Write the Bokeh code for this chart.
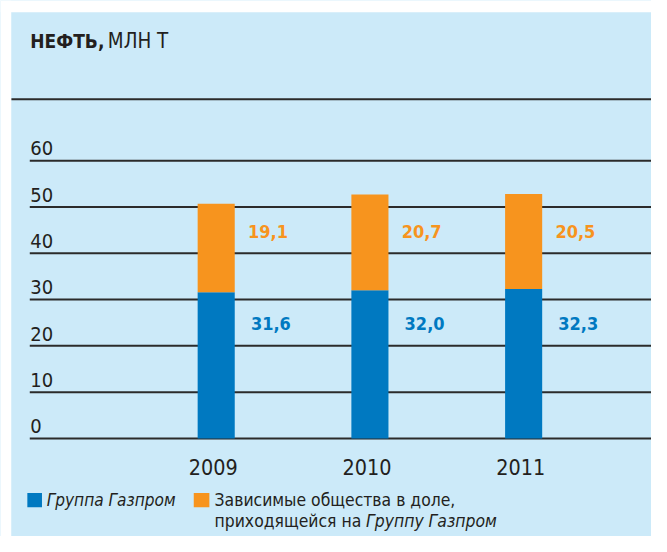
from bokeh.plotting import figure
from bokeh.models import Range1d, BoxAnnotation, ColumnDataSource
from bokeh.core.properties import value
from bokeh.embed import file_html
from bokeh.resources import INLINE

# ---------------- data ----------------
years = ["2009", "2010", "2011"]
gazprom = [31.6, 32.0, 32.3]
affiliates = [19.1, 20.7, 20.5]
gazprom_labels = ["31,6", "32,0", "32,3"]
affiliate_labels = ["19,1", "20,7", "20,5"]
y_ticks = [0, 10, 20, 30, 40, 50, 60]
y_tick_labels = ["0", "10", "20", "30", "40", "50", "60"]
title_bold = "НЕФТЬ,"
title_rest = "МЛН Т"
legend_1 = "Группа Газпром"
legend_2a = "Зависимые общества в доле,"
legend_2b = "приходящейся на"
legend_2c = "Группу Газпром"

# ---------------- style ----------------
BG = "#CCEAF9"
BLUE = "#0079C1"
ORANGE = "#F7941E"
INK = "#231F20"
LINE = "#2b2b2b"
FONT = "Liberation Sans Narrow, Arial Narrow, DejaVu Sans Condensed, sans-serif"

W, H = 651, 536           # whole reference (667 x 552) scaled to fit
SX, SY = W / 667, H / 552
STEP = 157.5              # reference px per category
C0 = 221.0                # reference px of first bar centre
PPU = 4.767               # reference px per unit
Z0 = 451.0                # reference px of zero line


def X(px):
    return (px - C0) / STEP


def Y(py):
    return (Z0 - py) / PPU


def fs(px):
    return f"{px * (SX + SY) / 2:.1f}px"


idx = list(range(len(years)))
totals = [g + a for g, a in zip(gazprom, affiliates)]

src = ColumnDataSource(dict(
    x=idx, g=gazprom, t=totals, gl=gazprom_labels, al=affiliate_labels, yr=years,
))

p = figure(
    width=W, height=H, output_backend="svg", toolbar_location=None,
    x_range=Range1d(X(0), X(667)),
    y_range=Range1d(Y(552), Y(0)),
    x_axis_location=None, y_axis_location=None,
    min_border=0,
)
p.grid.visible = False
p.outline_line_color = None
p.background_fill_color = BG
p.border_fill_color = "white"

# white strips outside the panel
p.add_layout(BoxAnnotation(bottom=Y(12), fill_color="white", fill_alpha=1.0, line_color=None))
p.add_layout(BoxAnnotation(right=X(11), fill_color="white", fill_alpha=1.0, line_color=None))

# separator line under title
p.segment(x0=[X(11)], y0=[Y(101.7)], x1=[X(667)], y1=[Y(101.7)], line_color=LINE, line_width=2)

# gridlines
n = len(y_ticks)
p.segment(x0=[X(30)] * n, y0=y_ticks, x1=[X(667)] * n, y1=y_ticks,
          line_color=LINE, line_width=2)

# tick labels (sit just above their gridline)
lab_lift = 12.6 / PPU
p.text(x=[X(30.5)] * n, y=[t + lab_lift for t in y_ticks], text=y_tick_labels,
       text_font=value(FONT), text_font_size=fs(20.5), text_color=INK,
       text_baseline="middle", text_align="left")

# bars
bw = 38 / STEP
p.vbar(x="x", width=bw, bottom=0, top="g", source=src, fill_color=BLUE, line_color=None)
p.vbar(x="x", width=bw, bottom="g", top="t", source=src, fill_color=ORANGE, line_color=None)

# value labels
p.text(x="x", y=Y(238), text="al", source=src, x_offset=53 * SX,
       text_font=value(FONT), text_font_size=fs(18.5), text_font_style="bold",
       text_color=ORANGE, text_align="center", text_baseline="middle")
p.text(x="x", y=Y(332.4), text="gl", source=src, x_offset=56 * SX,
       text_font=value(FONT), text_font_size=fs(18.5), text_font_style="bold",
       text_color=BLUE, text_align="center", text_baseline="middle")

# year labels
p.text(x="x", y=Y(480.5), text="yr", source=src, x_offset=-3 * SX,
       text_font=value(FONT), text_font_size=fs(22), text_color=INK,
       text_align="center", text_baseline="middle")

# title
p.text(x=[X(30.5)], y=[Y(41.7)], text=[title_bold],
       text_font=value(FONT), text_font_size=fs(19.5), text_font_style="bold",
       text_color=INK, text_baseline="middle")
p.text(x=[X(110)], y=[Y(41.7)], text=[title_rest],
       text_font=value(FONT), text_font_size=fs(21),
       text_color=INK, text_baseline="middle")

# legend
p.rect(x=[X(35)], y=[Y(514.5)], width=15 * SX, height=14.5 * SY,
       width_units="screen", height_units="screen", fill_color=BLUE, line_color=None)
p.rect(x=[X(206)], y=[Y(514.5)], width=16 * SX, height=14.5 * SY,
       width_units="screen", height_units="screen", fill_color=ORANGE, line_color=None)
p.text(x=[X(47.3)], y=[Y(514.8)], text=[legend_1],
       text_font=value(FONT), text_font_size=fs(17.6), text_font_style="italic",
       text_color=INK, text_baseline="middle")
p.text(x=[X(219.3)], y=[Y(514.8)], text=[legend_2a],
       text_font=value(FONT), text_font_size=fs(17.9),
       text_color=INK, text_baseline="middle")
p.text(x=[X(219.3)], y=[Y(535.8)], text=[legend_2b],
       text_font=value(FONT), text_font_size=fs(17.9),
       text_color=INK, text_baseline="middle")
p.text(x=[X(374.5)], y=[Y(535.8)], text=[legend_2c],
       text_font=value(FONT), text_font_size=fs(17.9), text_font_style="italic",
       text_color=INK, text_baseline="middle")

open("out.html", "w").write(file_html(p, INLINE))
